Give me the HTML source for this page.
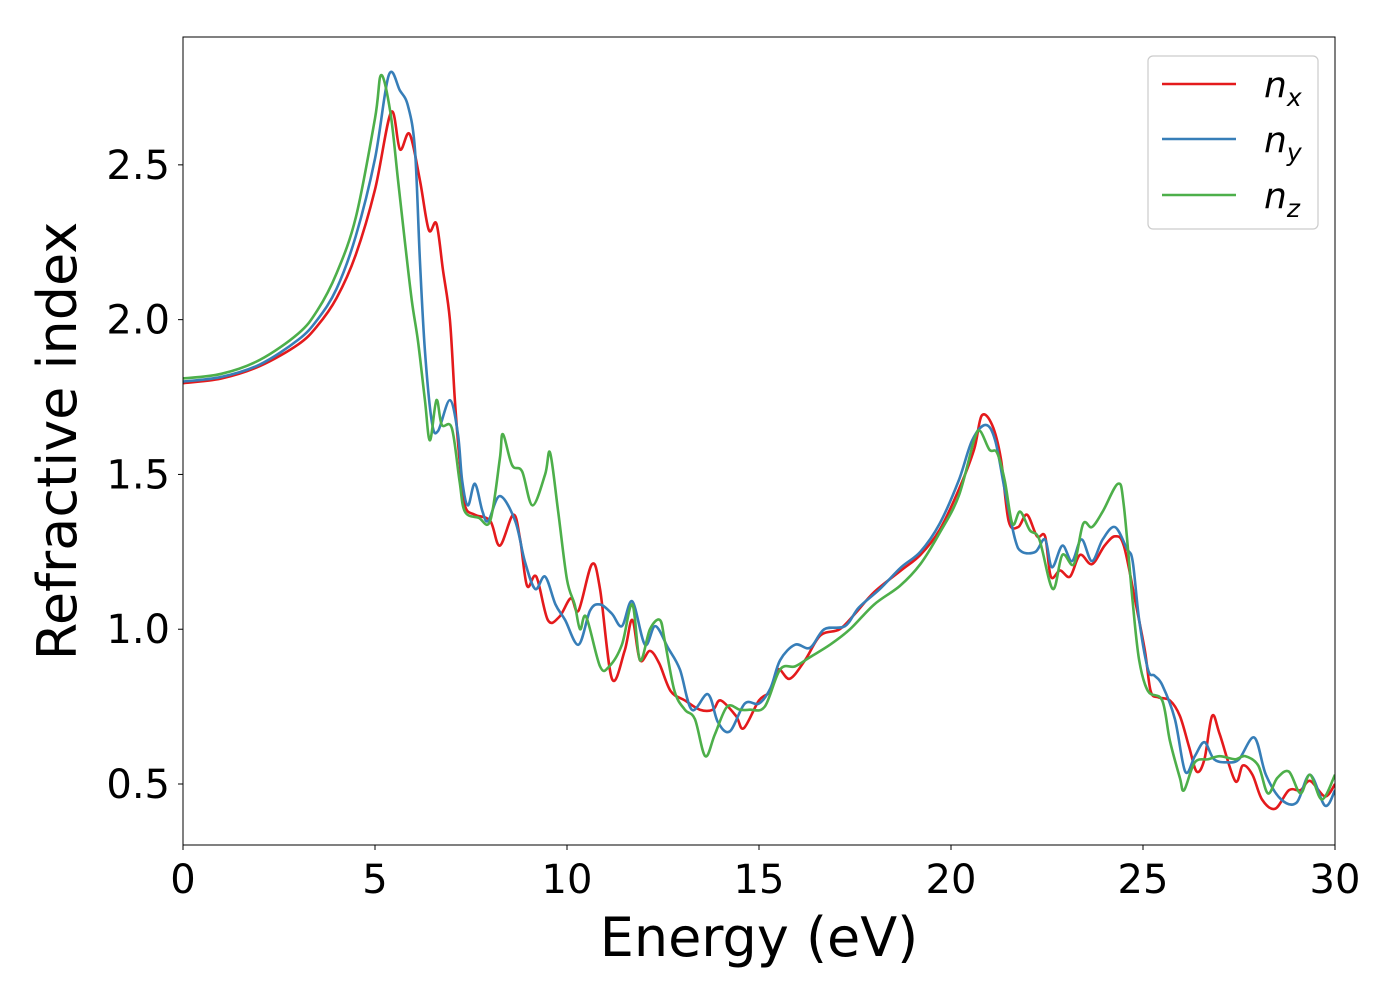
<!DOCTYPE html>
<html><head><meta charset="utf-8"><style>
body{margin:0;background:#fff;}
svg text{font-family:"DejaVu Sans","Liberation Sans",sans-serif;fill:#000;}
</style></head><body>
<svg id="chart" width="1400" height="1000" xmlns="http://www.w3.org/2000/svg">
<rect x="0" y="0" width="1400" height="1000" fill="#fff"/>
<g id="plot"></g>
<g id="axes"></g>
<text x="759" y="956" font-size="54" text-anchor="middle">Energy (eV)</text>
<text transform="translate(76,441) rotate(-90)" font-size="54" text-anchor="middle">Refractive index</text>
<g>
<rect x="1148" y="56" width="170" height="173" rx="5" fill="#fff" stroke="#ccc" stroke-width="1.2"/>
<line x1="1162" y1="84" x2="1236" y2="84" stroke="#e41a1c" stroke-width="2.6"/>
<line x1="1162" y1="139" x2="1236" y2="139" stroke="#377eb8" stroke-width="2.6"/>
<line x1="1162" y1="195" x2="1236" y2="195" stroke="#4daf4a" stroke-width="2.6"/>
<text x="1264" y="97" font-size="36" font-style="italic">n<tspan font-size="25" dy="9">x</tspan></text>
<text x="1264" y="152" font-size="36" font-style="italic">n<tspan font-size="25" dy="9">y</tspan></text>
<text x="1264" y="208" font-size="36" font-style="italic">n<tspan font-size="25" dy="9">z</tspan></text>
</g>
</svg>
<script>
const xTicks=[0,5,10,15,20,25,30];
const yTicks=[0.5,1.0,1.5,2.0,2.5];
const yTickLabels=["0.5","1.0","1.5","2.0","2.5"];
const nxE=[0,1,2,3,3.5,4,4.5,5,5.42,5.65,5.9,6.17,6.4,6.6,6.77,6.95,7.08,7.2,7.34,7.6,8.0,8.25,8.6,8.78,8.96,9.2,9.5,9.8,10.1,10.3,10.65,10.86,11.17,11.5,11.7,11.9,12.16,12.4,12.7,13.07,13.46,13.8,14,14.4,14.6,15.0,15.3,15.5,15.8,16.2,16.6,17.1,17.5,18.0,18.7,19.2,19.7,20.2,20.6,20.8,21.07,21.3,21.5,21.75,21.98,22.24,22.45,22.6,22.84,23.1,23.36,23.67,24.0,24.27,24.5,24.8,25.05,25.2,25.4,25.7,25.96,26.2,26.4,26.6,26.8,27.0,27.4,27.6,27.85,28.1,28.44,28.8,29.1,29.35,29.74,30];
const nxV=[1.795,1.81,1.85,1.92,1.98,2.07,2.21,2.42,2.67,2.55,2.6,2.45,2.29,2.31,2.16,2.0,1.74,1.55,1.40,1.37,1.35,1.27,1.37,1.29,1.14,1.17,1.03,1.04,1.10,1.06,1.21,1.13,0.84,0.93,1.03,0.90,0.93,0.89,0.80,0.77,0.74,0.74,0.77,0.72,0.68,0.77,0.80,0.87,0.84,0.90,0.98,1.0,1.05,1.12,1.19,1.24,1.32,1.45,1.58,1.69,1.66,1.55,1.35,1.33,1.37,1.30,1.30,1.17,1.19,1.17,1.24,1.21,1.27,1.30,1.27,1.09,0.93,0.80,0.78,0.77,0.72,0.62,0.54,0.58,0.72,0.66,0.51,0.56,0.53,0.45,0.42,0.48,0.48,0.51,0.46,0.50];
const nyE=[0,1,2,3,3.5,4,4.5,5,5.36,5.65,5.86,6.04,6.17,6.3,6.48,6.64,6.95,7.16,7.27,7.42,7.6,7.8,7.95,8.25,8.65,8.9,9.17,9.43,9.7,9.95,10.3,10.6,10.86,11.17,11.43,11.7,12.03,12.3,12.63,12.94,13.25,13.67,13.93,14.24,14.63,15.0,15.3,15.55,15.94,16.33,16.7,17.24,17.6,18.15,18.7,19.2,19.7,20.2,20.55,20.9,21.15,21.4,21.67,21.85,22.2,22.45,22.63,22.9,23.15,23.4,23.67,23.95,24.27,24.58,24.73,24.9,25.13,25.3,25.5,25.83,26.1,26.35,26.6,26.85,27.2,27.5,27.9,28.2,28.6,29.0,29.35,29.74,30];
const nyV=[1.80,1.815,1.855,1.935,2.0,2.10,2.27,2.52,2.79,2.74,2.69,2.55,2.19,1.90,1.67,1.64,1.74,1.63,1.48,1.40,1.47,1.38,1.35,1.43,1.35,1.22,1.13,1.17,1.08,1.03,0.95,1.06,1.08,1.05,1.01,1.09,0.95,1.01,0.94,0.87,0.74,0.79,0.70,0.67,0.76,0.76,0.81,0.90,0.95,0.94,1.0,1.01,1.07,1.13,1.20,1.25,1.34,1.48,1.61,1.66,1.61,1.45,1.29,1.25,1.25,1.29,1.20,1.27,1.22,1.29,1.22,1.29,1.33,1.26,1.22,1.03,0.87,0.85,0.82,0.71,0.54,0.59,0.635,0.58,0.57,0.58,0.65,0.53,0.45,0.44,0.53,0.43,0.48];
const nzE=[0,1,2,3,3.5,4,4.5,5,5.16,5.4,5.6,5.78,5.96,6.12,6.3,6.43,6.6,6.74,7.0,7.2,7.34,7.7,8.0,8.25,8.33,8.57,8.83,9.1,9.43,9.56,9.77,10.0,10.2,10.34,10.5,10.86,11.1,11.43,11.7,11.9,12.16,12.42,12.55,12.8,13.07,13.33,13.6,13.85,14.17,14.5,14.76,15.15,15.55,15.94,16.33,16.85,17.37,18.0,18.67,19.2,19.7,20.2,20.6,20.76,21.0,21.2,21.4,21.6,21.8,22.05,22.3,22.65,22.9,23.2,23.44,23.67,23.95,24.35,24.5,24.73,24.9,25.13,25.5,25.7,25.96,26.07,26.35,26.7,27.0,27.4,27.66,28.0,28.25,28.5,28.8,29.1,29.35,29.66,30];
const nzV=[1.81,1.825,1.87,1.955,2.03,2.15,2.33,2.65,2.79,2.67,2.45,2.25,2.06,1.93,1.74,1.61,1.74,1.66,1.65,1.48,1.38,1.36,1.35,1.55,1.63,1.53,1.51,1.40,1.50,1.57,1.38,1.16,1.08,1.00,1.04,0.88,0.88,0.95,1.08,0.90,1.0,1.03,0.96,0.80,0.74,0.71,0.59,0.66,0.75,0.74,0.74,0.75,0.87,0.88,0.91,0.95,1.0,1.08,1.14,1.21,1.31,1.43,1.61,1.64,1.58,1.57,1.48,1.34,1.38,1.32,1.29,1.13,1.24,1.21,1.34,1.33,1.38,1.47,1.40,1.09,0.90,0.80,0.77,0.64,0.52,0.48,0.57,0.58,0.59,0.58,0.59,0.56,0.47,0.52,0.54,0.47,0.53,0.45,0.53];

const X0=183,X1=1335,Y0=37,Y1=845,xMin=0,xMax=30,yMin=0.303,yMax=2.913;
function xs(v){return X0+(v-xMin)/(xMax-xMin)*(X1-X0);}
function ys(v){return Y1-(v-yMin)/(yMax-yMin)*(Y1-Y0);}
const NS="http://www.w3.org/2000/svg";
function mk(tag,attrs,parent){const e=document.createElementNS(NS,tag);for(const k in attrs)e.setAttribute(k,attrs[k]);parent.appendChild(e);return e;}
function pathFrom(E,V){
  const p=E.map((e,i)=>[xs(e),ys(V[i])]);
  let d="M"+p[0][0].toFixed(2)+","+p[0][1].toFixed(2);
  for(let i=0;i<p.length-1;i++){
    const a=p[Math.max(0,i-1)],b=p[i],c=p[i+1],n=p[Math.min(p.length-1,i+2)];
    const c1=[b[0]+(c[0]-a[0])/6,b[1]+(c[1]-a[1])/6];
    const c2=[c[0]-(n[0]-b[0])/6,c[1]-(n[1]-b[1])/6];
    d+=" C"+c1[0].toFixed(2)+","+c1[1].toFixed(2)+" "+c2[0].toFixed(2)+","+c2[1].toFixed(2)+" "+c[0].toFixed(2)+","+c[1].toFixed(2);
  }
  return d;
}
const plot=document.getElementById('plot');
const defs=mk('defs',{},plot);
const cp=mk('clipPath',{id:'clip'},defs);
mk('rect',{x:X0,y:Y0,width:X1-X0,height:Y1-Y0},cp);
const series=[[nxE,nxV,'#e41a1c','line-nx'],[nyE,nyV,'#377eb8','line-ny'],[nzE,nzV,'#4daf4a','line-nz']];
series.forEach(s=>{
  const el=mk('path',{d:pathFrom(s[0],s[1]),fill:'none',stroke:s[2],'stroke-width':2.6,'stroke-linejoin':'round','clip-path':'url(#clip)'},plot);
  
  
});
const axes=document.getElementById('axes');
const frame=mk('rect',{x:X0,y:Y0,width:X1-X0,height:Y1-Y0,fill:'none',stroke:'#000','stroke-width':1},axes);


xTicks.forEach(t=>{
  const x=xs(t);
  const tk=mk('line',{x1:x,y1:Y1,x2:x,y2:Y1+5,stroke:'#000','stroke-width':1},axes);
  
  
  const tx=mk('text',{x:x,y:893,'font-size':40,'text-anchor':'middle'},axes);
  tx.textContent=String(t);
  
  
});
yTicks.forEach((t,i)=>{
  const y=ys(t);
  const tk=mk('line',{x1:X0-5,y1:y,x2:X0,y2:y,stroke:'#000','stroke-width':1},axes);
  
  
  const tx=mk('text',{x:170,y:y+14,'font-size':40,'text-anchor':'end'},axes);
  tx.textContent=yTickLabels[i];
  
  
});
</script>
</body></html>
